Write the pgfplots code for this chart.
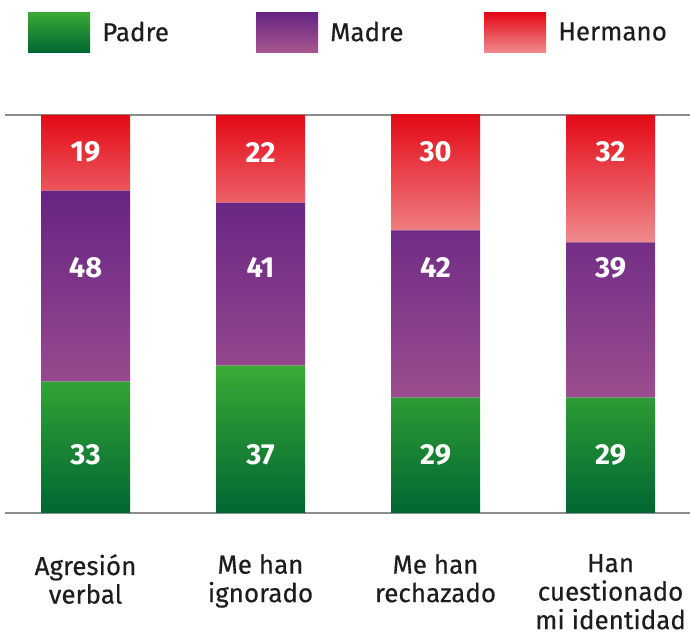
\documentclass[border=0pt]{standalone}
\usepackage{fontspec}
\setmainfont{Fira Sans}
\newfontfamily\medfont{Fira Sans}[FakeBold=0.35]
\usepackage{pgfplots}
\pgfplotsset{compat=1.18}
\definecolor{gTop}{HTML}{3AAA35}
\definecolor{gBot}{HTML}{006633}
\definecolor{pTop}{HTML}{662483}
\definecolor{pBot}{HTML}{9A4D8E}
\definecolor{pLegBot}{HTML}{A6568F}
\definecolor{rTop}{HTML}{E30613}
\definecolor{rBot}{HTML}{F08A8D}
\definecolor{axisgray}{HTML}{8C8C8C}
\definecolor{txt}{HTML}{1D1D1B}
\tikzset{numlab/.style={text=white, font=\fontsize{29bp}{32bp}\selectfont\bfseries, anchor=center}}
\begin{document}
\begin{tikzpicture}
\path[use as bounding box] (0,0) rectangle (690bp,636bp);
\begin{axis}[
  at={(5bp,123bp)}, anchor=south west,
  scale only axis, width=685bp, height=398bp,
  xmin=-0.46, xmax=3.454, ymin=0, ymax=100,
  ybar stacked, bar width=89bp,
  axis x line=box, axis y line=none,
  axis line style={draw=axisgray, line width=1.5bp},
  xtick={0,1,2,3},
  xticklabels={{Agresión\\verbal},{Me han\\ignorado},{Me han\\rechazado},{Han\\cuestionado\\mi identidad}},
  major tick length=0pt,
  ytick=\empty,
  xticklabel style={align=center, anchor=north, inner sep=0pt, yshift=-41bp,
    font=\fontsize{26bp}{28.5bp}\medfont, text=txt},
  legend columns=3,
  legend style={at={(0.0336,1.2588)}, anchor=north west, draw=none, fill=none,
    inner sep=0pt, font=\fontsize{26bp}{30bp}\medfont, text=txt,
    /tikz/every odd column/.append style={column sep=12bp},
    /tikz/every even column/.append style={column sep=24bp},
    nodes={inner sep=0pt, text width=130bp, align=left}},
  legend cell align=left,
  after end axis/.code={
    \node[numlab] at (axis cs:0,90.7) {19};
    \node[numlab] at (axis cs:1,90.7) {22};
    \node[numlab] at (axis cs:2,90.7) {30};
    \node[numlab] at (axis cs:3,90.7) {32};
    \node[numlab] at (axis cs:0,61.6) {48};
    \node[numlab] at (axis cs:1,61.6) {41};
    \node[numlab] at (axis cs:2,61.6) {42};
    \node[numlab] at (axis cs:3,61.6) {39};
    \node[numlab] at (axis cs:0,14.6) {33};
    \node[numlab] at (axis cs:1,14.6) {37};
    \node[numlab] at (axis cs:2,14.6) {29};
    \node[numlab] at (axis cs:3,14.6) {29};
  },
]
\addplot[draw=none, top color=gTop, bottom color=gBot,
  legend image code/.code={\shade[top color=gTop, bottom color=gBot] (0bp,-20bp) rectangle (62bp,20bp);}]
  coordinates {(0,33) (1,37) (2,29) (3,29)};
\addplot[draw=none, top color=pTop, bottom color=pBot,
  legend image code/.code={\shade[top color=pTop, bottom color=pLegBot] (0bp,-20bp) rectangle (62bp,20bp);}]
  coordinates {(0,48) (1,41) (2,42) (3,39)};
\addplot[draw=none, top color=rTop, bottom color=rBot,
  legend image code/.code={\shade[top color=rTop, bottom color=rBot] (0bp,-20bp) rectangle (62bp,20bp);}]
  coordinates {(0,19) (1,22) (2,30) (3,32)};
\legend{Padre, Madre, Hermano}
\end{axis}
\end{tikzpicture}
\end{document}
